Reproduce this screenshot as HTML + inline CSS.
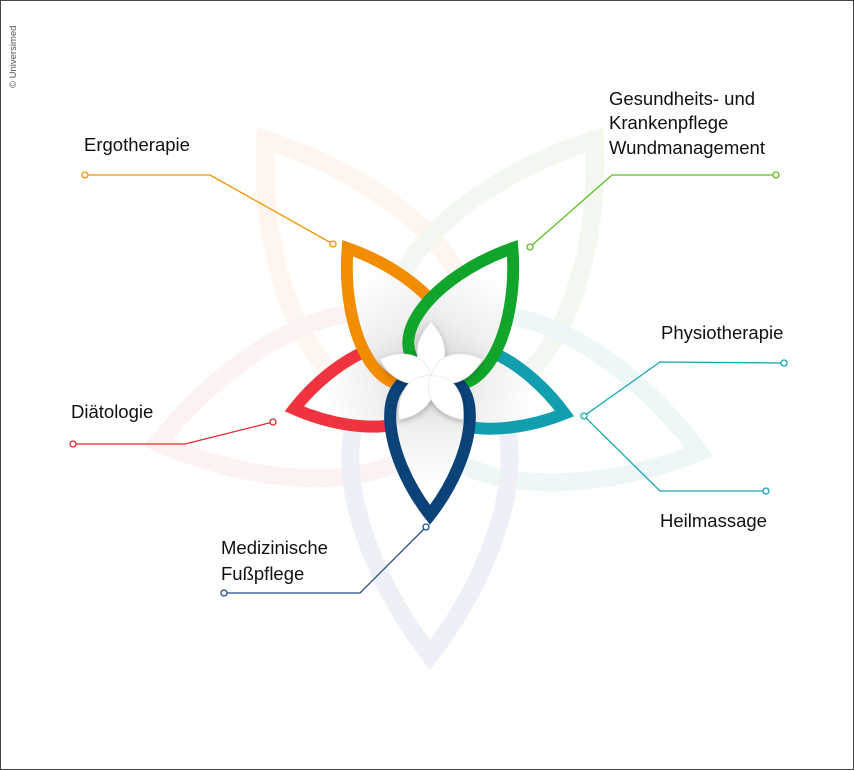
<!DOCTYPE html>
<html><head><meta charset="utf-8"><style>
html,body{margin:0;padding:0;background:#fff;}
svg{display:block;}
text{font-family:"Liberation Sans",sans-serif;fill:#111;}
</style></head><body>
<svg width="854" height="770" viewBox="0 0 854 770" xmlns="http://www.w3.org/2000/svg">
<defs>
<path id="p" d="M0,0 C-58,-4 -48,78 0,140 C48,78 58,-4 0,0 Z"/>
<linearGradient id="g" gradientUnits="userSpaceOnUse" x1="0" y1="0" x2="0" y2="110">
<stop offset="0" stop-color="#cfcfcf"/><stop offset="0.5" stop-color="#f0f0f0"/><stop offset="1" stop-color="#fff"/></linearGradient>
<path id="sp" d="M0,0 C-20,12 -17,36 0,54 C17,36 20,12 0,0 Z"/>
<filter id="sh" x="-30%" y="-30%" width="160%" height="160%"><feDropShadow dx="0" dy="2" stdDeviation="3" flood-color="#000" flood-opacity="0.25"/></filter>
</defs>
<rect x="0.5" y="0.5" width="853" height="769" fill="#fff" stroke="#444"/>
<text transform="translate(16,88) rotate(-90)" font-size="9.5" style="fill:#555">© Universimed</text>
<g transform="translate(430,375)" fill="none" stroke-width="9" stroke-linejoin="miter">
<g transform="rotate(145) scale(2.05)"><use href="#p" stroke="#fef5ee"/></g>
<g transform="rotate(-145) scale(2.05)"><use href="#p" stroke="#f2f8f0"/></g>
<g transform="rotate(-74) scale(2.0)"><use href="#p" stroke="#eef7f8"/></g>
<g transform="rotate(76) scale(2.0)"><use href="#p" stroke="#fdf2f2"/></g>
<g transform="rotate(0) scale(2.0)"><use href="#p" stroke="#edf0f6"/></g>
</g>
<g transform="translate(430,375)" stroke-width="12" stroke-linejoin="miter" fill="url(#g)">
<g transform="rotate(-74)"><use href="#p" stroke="#119eae"/></g>
<g transform="rotate(76)"><use href="#p" stroke="#f0343f"/></g>
<g transform="rotate(147) scale(1.08)"><use href="#p" stroke="#f28c00" stroke-width="11"/></g>
<g transform="rotate(-147) scale(1.08)"><use href="#p" stroke="#12a52b" stroke-width="11"/></g>
<g transform="rotate(0)"><use href="#p" stroke="#0b4278"/></g>
</g>
<g transform="translate(431,376)" fill="#fff" stroke="#e2e2e2" stroke-width="0.6" filter="url(#sh)">
<g transform="rotate(180)"><use href="#sp"/></g>
<g transform="rotate(108)"><use href="#sp"/></g>
<g transform="rotate(-108)"><use href="#sp"/></g>
<g transform="rotate(36)"><use href="#sp"/></g>
<g transform="rotate(-36)"><use href="#sp"/></g>
</g>
<g fill="none" stroke-width="1.3">
<polyline points="85,175 210,175 333,244" stroke="#f39200"/>
<circle cx="85" cy="175" r="3" fill="#fff" stroke="#f39200"/>
<circle cx="333" cy="244" r="3" fill="#fff" stroke="#f39200"/>
<polyline points="776,175 612,175 530,247" stroke="#5cbf22"/>
<circle cx="776" cy="175" r="3" fill="#fff" stroke="#5cbf22"/>
<circle cx="530" cy="247" r="3" fill="#fff" stroke="#5cbf22"/>
<polyline points="784,363 660,362 584,416 660,491 766,491" stroke="#1aa6b8"/>
<circle cx="784" cy="363" r="3" fill="#fff" stroke="#1aa6b8"/>
<circle cx="584" cy="416" r="3" fill="#fff" stroke="#1aa6b8"/>
<circle cx="766" cy="491" r="3" fill="#fff" stroke="#1aa6b8"/>
<polyline points="73,444 185,444 273,422" stroke="#e5262f"/>
<circle cx="73" cy="444" r="3" fill="#fff" stroke="#e5262f"/>
<circle cx="273" cy="422" r="3" fill="#fff" stroke="#e5262f"/>
<polyline points="224,593 360,593 426,527" stroke="#1f4e8c"/>
<circle cx="224" cy="593" r="3" fill="#fff" stroke="#1f4e8c"/>
<circle cx="426" cy="527" r="3" fill="#fff" stroke="#1f4e8c"/>
</g>
<g font-size="18.5">
<text x="84" y="151">Ergotherapie</text>
<text x="609" y="105">Gesundheits- und</text>
<text x="609" y="129">Krankenpflege</text>
<text x="609" y="154">Wundmanagement</text>
<text x="661" y="339">Physiotherapie</text>
<text x="660" y="527">Heilmassage</text>
<text x="71" y="418">Diätologie</text>
<text x="221" y="554">Medizinische</text>
<text x="221" y="580">Fußpflege</text>
</g>
</svg>
</body></html>
